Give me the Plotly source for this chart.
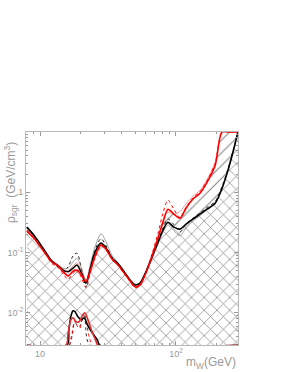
import plotly.graph_objects as go

# ---- data ----
mass = [8, 9, 10.5, 12.2, 13.6, 14.8, 16.1, 17.5, 18.7, 20.0, 21.8, 23.3, 25.4, 28.1,
        30.6, 33.8, 37.5, 41.5, 45.9, 50.0, 54.3, 60.1, 66.6, 73.8, 80.2, 87.3, 96.6,
        107, 118.5, 133, 150, 169, 194, 218, 241, 262, 276, 286]

black_thick = [0.264, 0.195, 0.119, 0.072, 0.060, 0.051, 0.048, 0.055, 0.062, 0.048,
               0.031, 0.051, 0.102, 0.144, 0.119, 0.081, 0.065, 0.048, 0.035, 0.029,
               0.031, 0.048, 0.084, 0.149, 0.235, 0.319, 0.264, 0.245, 0.296, 0.358,
               0.433, 0.524, 0.658, 1.16, 2.31, 4.58, 7.24, 10.2]

black_thin = [0.255, 0.190, 0.118, 0.075, 0.063, 0.055, 0.055, 0.070, 0.080, 0.058,
              0.034, 0.060, 0.125, 0.205, 0.150, 0.090, 0.068, 0.050, 0.036, 0.030,
              0.031, 0.047, 0.080, 0.140, 0.215, 0.285, 0.230, 0.190, 0.255, 0.330,
              0.410, 0.510, 0.650, 1.15, 2.30, 4.55, 7.2, 10.2]

black_dot = [0.258, 0.192, 0.117, 0.070, 0.058, 0.050, 0.058, 0.088, 0.098, 0.060,
             0.027, 0.055, 0.110, 0.170, 0.130, 0.085, 0.066, 0.049, 0.035, 0.029,
             0.030, 0.046, 0.082, 0.150, 0.255, 0.360, 0.290, 0.220, 0.300, 0.370,
             0.450, 0.560, 0.700, 1.25, 2.45, 4.8, 7.6, 10.5]

red_thick = [0.227, 0.174, 0.110, 0.070, 0.060, 0.048, 0.041, 0.049, 0.051, 0.044,
             0.033, 0.048, 0.087, 0.133, 0.114, 0.078, 0.062, 0.046, 0.034, 0.027,
             0.029, 0.046, 0.087, 0.174, 0.319, 0.524, 0.433, 0.372, 0.544, 0.766,
             0.963, 1.46, 2.79, 10.0, 10.0, 10.0, 10.0, 10.0]

red_dash = [0.235, 0.178, 0.112, 0.066, 0.056, 0.044, 0.036, 0.045, 0.052, 0.040,
            0.026, 0.044, 0.082, 0.128, 0.112, 0.077, 0.061, 0.045, 0.033, 0.026,
            0.028, 0.047, 0.095, 0.210, 0.450, 0.740, 0.520, 0.380, 0.560, 0.800,
            1.02, 1.55, 3.0, 10.0, 10.0, 10.0, 10.0, 10.0]

red_thin = [0.240, 0.180, 0.113, 0.072, 0.062, 0.052, 0.050, 0.060, 0.068, 0.052,
            0.035, 0.052, 0.095, 0.138, 0.116, 0.080, 0.063, 0.047, 0.034, 0.027,
            0.029, 0.047, 0.090, 0.185, 0.340, 0.470, 0.430, 0.480, 0.640, 0.860,
            1.08, 1.62, 3.1, 10.0, 10.0, 10.0, 10.0, 10.0]

floor_val = 0.0029

low_mass_black = [8, 15.8, 16.3, 16.9, 17.5, 18.1, 19.0, 20.0, 21.1, 22.5, 24.5, 26.3, 27.6, 286]
low_black = [floor_val, floor_val, 0.0052, 0.0089, 0.0108, 0.0104, 0.0086, 0.0077, 0.0082,
             0.0061, 0.0045, 0.0036, floor_val, floor_val]

low_mass_red = [8, 15.5, 16.1, 16.9, 17.5, 18.4, 19.4, 20.4, 21.4, 22.5, 24.1, 25.8, 26.7, 286]
low_red = [floor_val, floor_val, 0.0047, 0.0077, 0.0083, 0.0071, 0.0071, 0.0089, 0.0100,
           0.0077, 0.0049, 0.0034, floor_val, floor_val]

low_mass_dash = [16.5, 17.2, 18.0, 18.8, 19.6, 20.4, 21.2, 22.0, 23.0, 24.0]
low_red_dash = [floor_val, 0.0045, 0.0075, 0.0060, 0.0055, 0.0080, 0.0098, 0.0065, 0.0040, floor_val]
low_black_dash = [floor_val, 0.0040, 0.0070, 0.0062, 0.0060, 0.0075, 0.0090, 0.0040, floor_val, floor_val]

x_tickvals = [10, 100]
x_ticktext = ["10", "10<sup>2</sup>"]
y_tickvals = [0.01, 0.1, 1]
y_ticktext = ["10<sup>-2</sup>", "10<sup>-1</sup>", "1"]

# ---- figure ----
fig = go.Figure()
SM = 0.8

# crosshatched exclusion region between the low hump curve and the main black curve
fig.add_trace(go.Scatter(x=low_mass_black, y=low_black, mode="lines",
                         line=dict(color="black", width=0, shape="spline", smoothing=SM),
                         hoverinfo="skip"))
fig.add_trace(go.Scatter(x=mass, y=black_thick, mode="lines", fill="tonexty",
                         fillcolor="rgba(0,0,0,0)",
                         fillpattern=dict(shape="x", size=9, solidity=0.15,
                                          fgcolor="#000000", bgcolor="rgba(0,0,0,0)"),
                         line=dict(color="black", width=0, shape="spline", smoothing=SM),
                         hoverinfo="skip"))
# single-hatched band between black and red curves
fig.add_trace(go.Scatter(x=mass, y=red_thick, mode="lines", fill="tonexty",
                         fillcolor="rgba(0,0,0,0)",
                         fillpattern=dict(shape="/", size=9, solidity=0.11,
                                          fgcolor="#000000", bgcolor="rgba(0,0,0,0)"),
                         line=dict(color="red", width=0, shape="spline", smoothing=SM),
                         hoverinfo="skip"))

line_specs = [
    (mass, black_dot, dict(color="#222222", width=1, dash="dot")),
    (mass, black_thin, dict(color="#888888", width=0.8)),
    (mass, red_thin, dict(color="#f08080", width=0.8)),
    (mass, red_dash, dict(color="red", width=1, dash="dot")),
    (mass, black_thick, dict(color="black", width=1.6)),
    (mass, red_thick, dict(color="red", width=1.6)),
    (low_mass_dash, low_black_dash, dict(color="#333333", width=1, dash="dot")),
    (low_mass_dash, low_red_dash, dict(color="red", width=1, dash="dot")),
    (low_mass_black, low_black, dict(color="black", width=1.6)),
    (low_mass_red, low_red, dict(color="#e03030", width=1.6)),
]
for xs, ys, ln in line_specs:
    ln = dict(ln, shape="spline", smoothing=SM)
    fig.add_trace(go.Scatter(x=xs, y=ys, mode="lines", line=ln, hoverinfo="skip"))

axis_common = dict(showline=True, linecolor="#b8b8b8", linewidth=1, mirror="allticks",
                   ticks="inside", ticklen=4, tickcolor="#999999", showgrid=False,
                   zeroline=False, automargin=False,
                   tickfont=dict(family="Liberation Sans", size=9, color="#9a9a9a"))

fig.update_xaxes(type="log", range=[0.897, 2.456], tickvals=x_tickvals, ticktext=x_ticktext,
                 minor=dict(ticks="inside", ticklen=2, tickcolor="#999999", dtick="D1"),
                 **axis_common)
fig.update_yaxes(type="log", range=[-2.534, 1.0], tickvals=y_tickvals, ticktext=y_ticktext,
                 minor=dict(ticks="inside", ticklen=2, tickcolor="#999999", dtick="D1"),
                 **axis_common)

fig.add_annotation(text="ρ<sub>sgr</sub>  (GeV/cm<sup>3</sup>)", xref="paper", yref="paper",
                   x=-0.071, y=0.765, textangle=-90, showarrow=False,
                   font=dict(family="Liberation Sans", size=12, color="#9a9a9a"),
                   xanchor="center", yanchor="middle")
fig.add_annotation(text="m<sub>W</sub>(GeV)", xref="paper", yref="paper",
                   x=1.0, y=-0.085, showarrow=False,
                   font=dict(family="Liberation Sans", size=12, color="#9a9a9a"),
                   xanchor="right", yanchor="middle")

fig.update_layout(width=287, height=372, margin=dict(l=26, r=49, t=132, b=27),
                  paper_bgcolor="white", plot_bgcolor="white", showlegend=False,
                  hovermode=False)

# remove the browser's default page margin so the figure fills the window exactly
fig.write_html("out.html", config={"displayModeBar": False, "staticPlot": True},
               post_script="document.body.style.margin='0';document.body.style.overflow='hidden';")
